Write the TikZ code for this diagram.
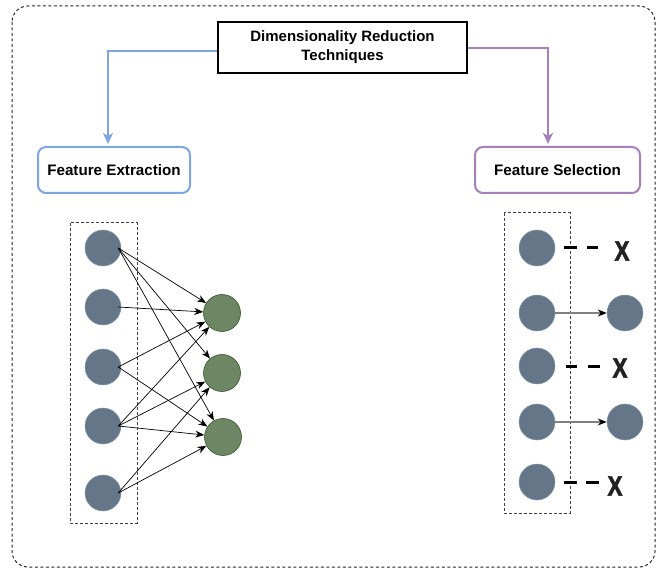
\documentclass[tikz,border=0pt]{standalone}
\usepackage{fontspec}
\setmainfont{Liberation Sans}
\newfontfamily\heavyx{Liberation Sans Bold}[FakeBold=2.5]
\usetikzlibrary{arrows.meta}
\definecolor{fxblue}{HTML}{7EA6E0}
\definecolor{fspurple}{HTML}{A680B8}
\definecolor{slate}{HTML}{647687}
\definecolor{slateedge}{HTML}{8696A6}
\definecolor{leaf}{HTML}{6D8764}
\definecolor{leafedge}{HTML}{3A5431}
\definecolor{xgray}{HTML}{222222}
\tikzset{
  every node/.style={font=\bfseries},
  titlebox/.style={draw=black, line width=2.2pt, fill=white, minimum width=249pt, minimum height=51pt, align=center, font=\bfseries\fontsize{15}{19}\selectfont},
  featbox/.style={rounded corners=8pt, line width=2pt, fill=white, minimum height=46pt, font=\bfseries\fontsize{15.2}{18}\selectfont},
  inode/.style={circle, fill=slate, draw=slateedge, line width=0.5pt, minimum size=36pt, inner sep=0pt},
  onode/.style={circle, fill=leaf, draw=leafedge, line width=0.6pt, minimum size=37pt, inner sep=0pt},
  grp/.style={draw=black!75, line width=1pt, dash pattern=on 3pt off 2pt},
  edge/.style={draw=black, line width=0.7pt, -{Stealth[length=9pt,width=7pt]}},
  keep/.style={draw=black!50, line width=1.2pt, -{Stealth[length=9pt,width=7pt,black]}},
  drop/.style={draw=black, line width=3pt},
  xmark/.style={font=\heavyx\fontsize{28}{28}\selectfont, text=xgray, inner sep=0pt, xscale=0.8},
  link/.style={line width=2.6pt, -{Stealth[length=11pt,width=10pt,inset=3pt]}}
}
\begin{document}
\begin{tikzpicture}[x=1pt, y=-1pt]
\useasboundingbox (0,0) rectangle (656,569);
% outer frame
\draw[black!85, line width=1pt, dash pattern=on 3pt off 2.5pt, rounded corners=16pt] (12,6) rectangle (655,567);

% title and categories
\node[titlebox] (title) at (342.5,47.5) {Dimensionality Reduction\\Techniques};
\node[featbox, draw=fxblue, minimum width=152pt] (fx) at (114,170) {Feature Extraction};
\node[featbox, draw=fspurple, minimum width=165pt] (fs) at (557.5,170) {Feature Selection};

\coordinate (bl) at (108,51);
\coordinate (pl) at (548,48);
\draw[link, fxblue] (title.west |- bl) -- (bl) -- (108,144);
\draw[link, fspurple] (title.east |- pl) -- (pl) -- (548,144);

% feature extraction network
\draw[grp] (70,223) rectangle (137,523);
\node[inode] (a1) at (103,248) {};
\node[inode] (a2) at (103,307) {};
\node[inode] (a3) at (103,367) {};
\node[inode] (a4) at (103,426) {};
\node[inode] (a5) at (103,493) {};
\node[onode] (g1) at (222,313) {};
\node[onode] (g2) at (222,373) {};
\node[onode] (g3) at (223,437) {};

\foreach \s/\t in {a1/g1,a1/g2,a1/g3,a2/g1,a3/g1,a3/g3,a4/g1,a4/g2,a4/g3,a5/g2,a5/g3}
  \draw[edge] ([xshift=-3pt]\s.east) -- (\t);

% feature selection
\draw[grp] (504,213) rectangle (570,513);
\node[inode] (s1) at (537,248) {};
\node[inode] (s2) at (537,313) {};
\node[inode] (s3) at (537,366) {};
\node[inode] (s4) at (537,422) {};
\node[inode] (s5) at (537,482) {};
\node[inode] (k2) at (625,313) {};
\node[inode] (k4) at (625,422) {};
\draw[keep] (s2) -- (k2);
\draw[keep] (s4) -- (k4);

\node[xmark] (x1) at (622,251) {X};
\node[xmark] (x3) at (620,368) {X};
\node[xmark] (x5) at (615,486) {X};
\draw[drop] ([xshift=9pt]s1.east) -- +(13,0) ([xshift=32pt]s1.east) -- +(11,0);
\draw[drop] ([xshift=11pt]s3.east) -- +(11,0) ([xshift=33pt]s3.east) -- +(12,0);
\draw[drop] ([xshift=9pt]s5.east) -- +(13,0) ([xshift=31pt]s5.east) -- +(13,0);
\end{tikzpicture}
\end{document}
